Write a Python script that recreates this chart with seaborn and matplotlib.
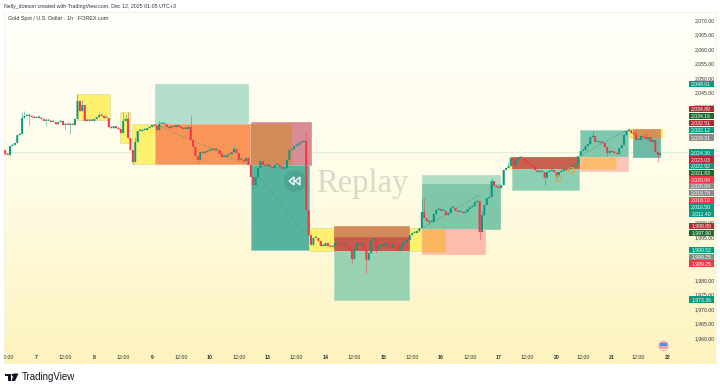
import numpy as np
import pandas as pd
import matplotlib
matplotlib.use("Agg")
import matplotlib.pyplot as plt
from matplotlib.colors import LinearSegmentedColormap
from matplotlib.patches import Rectangle, Circle, Polygon
import seaborn as sns

first_open = 2025.0
closes = [
    2023.6, 2023.3, 2026.4, 2026.8, 2027.5, 2030.2, 2030.6, 2036.1, 2036.8, 2036.8, 2036.8, 2036.4, 2036.1,
    2036.1, 2036.1, 2035.8, 2035.1, 2035.1, 2035.1, 2034.7, 2034.7, 2034.0, 2034.7, 2035.1, 2033.7,
    2034.0, 2033.7, 2034.0, 2033.7, 2035.8, 2042.0, 2038.5, 2040.6, 2035.1, 2035.4, 2035.1, 2035.1,
    2035.8, 2036.4, 2037.1, 2036.8, 2036.1, 2036.1, 2033.0, 2032.6, 2033.3, 2032.6, 2032.3, 2030.9,
    2035.1, 2035.8, 2029.2, 2025.0, 2020.9, 2027.8, 2031.6, 2031.6, 2031.9, 2031.9, 2032.6, 2033.0,
    2033.7, 2033.3, 2031.9, 2034.0, 2034.0, 2034.0, 2033.0, 2032.6, 2033.3, 2033.0, 2033.7, 2033.0,
    2032.6, 2032.3, 2032.3, 2033.0, 2028.5, 2026.1, 2022.9, 2021.6, 2024.3, 2024.0, 2024.3, 2024.7,
    2025.0, 2025.4, 2025.0, 2025.0, 2023.6, 2022.6, 2022.6, 2023.3, 2023.6, 2024.3, 2025.4, 2024.0,
    2021.6, 2021.6, 2021.2, 2022.3, 2019.9, 2015.7, 2012.9, 2015.7, 2018.8, 2021.2, 2019.9, 2019.5,
    2019.9, 2019.2, 2018.8, 2019.9, 2019.9, 2019.2, 2018.5, 2018.8, 2021.6, 2025.0, 2025.4, 2026.4,
    2026.8, 2027.5, 2027.8, 2028.1, 2004.3, 1995.6, 1992.2, 1994.6, 1994.6, 1993.6, 1991.8, 1991.8,
    1992.9, 1991.8, 1991.5, 1991.8, 1992.9, 1992.9, 1992.5, 1992.2, 1992.5, 1991.5, 1990.1, 1987.3,
    1990.8, 1992.9, 1992.2, 1992.9, 1990.4, 1987.0, 1989.4, 1993.6, 1994.6, 1990.4, 1991.8, 1991.8,
    1991.8, 1992.9, 1992.2, 1991.1, 1992.5, 1992.2, 1990.4, 1991.5, 1992.9, 1993.2, 1993.9, 1995.6,
    1996.3, 1996.3, 1997.0, 1998.0, 2003.6, 2001.5, 2000.5, 2000.1, 2000.1, 2002.9, 2004.3, 2004.6,
    2004.0, 2004.0, 2002.5, 2003.2, 2005.0, 2005.0, 2004.0, 2003.6, 2003.6, 2003.2, 2003.6, 2004.6,
    2005.3, 2005.7, 2007.0, 2007.4, 1996.7, 2002.5, 2006.0, 2008.4, 2008.8, 2014.3, 2012.6, 2012.2,
    2011.9, 2012.9, 2018.1, 2018.8, 2019.5, 2022.3, 2019.9, 2021.6, 2022.3, 2022.3, 2021.9, 2020.9,
    2020.5, 2019.9, 2019.2, 2018.1, 2017.4, 2017.4, 2017.4, 2015.4, 2017.4, 2017.8, 2018.1, 2017.4,
    2016.0, 2017.4, 2017.8, 2018.5, 2018.1, 2018.5, 2019.5, 2019.5, 2020.2, 2022.9, 2024.7, 2025.0,
    2026.4, 2027.1, 2029.5, 2029.9, 2027.8, 2027.8, 2027.5, 2027.5, 2026.1, 2024.0, 2024.7, 2024.3,
    2024.0, 2023.6, 2025.7, 2026.8, 2030.2, 2031.6, 2031.9, 2030.9, 2030.6, 2028.5, 2028.5, 2029.9,
    2029.5, 2028.8, 2029.5, 2027.8, 2028.5, 2024.3, 2023.3, 2024.0,
]
# only the wicks that stick out of the body, bar number: price
high_wicks = {-6: 2038.2, -5: 2038.5, -3: 2037.6, 1: 2037.2, 17: 2044.4, 19: 2042.2, 26: 2038.0, 36: 2038.2,
              37: 2037.5, 38: 2038.2, 41: 2029.5, 51: 2035.2, 64: 2037.1, 82: 2026.6, 112: 2030.9, 137: 1991.0,
              160: 2008.4, 161: 2008.4, 185: 2004.0, 189: 2015.4, 196: 2020.9, 197: 2023.0, 231: 2031.6,
              246: 2032.6, 249: 2031.5, 253: 2031.2}
low_wicks = {-11: 2023.0, -3: 2033.7, 4: 2033.6, 14: 2030.6, 12: 2032.4, 40: 2020.2, 67: 2020.5, 86: 2020.5,
             90: 2011.4, 131: 1985.8, 137: 1982.6, 141: 1989.4, 159: 1996.6, 163: 1999.0, 184: 1993.9,
             211: 2012.9, 216: 2014.7, 237: 2023.0, 258: 2020.9}

day_ticks = [0, 24, 48, 72, 96, 120, 144, 168, 192, 216, 239, 262]
day_labels = ["7", "8", "9", "10", "13", "14", "15", "16", "17", "20", "21", "22"]
noon_ticks = [12, 36, 60, 84, 108, 132, 156, 180, 204, 227, 250]
price_ticks = [1960, 1965, 1970, 1975, 1980, 1995, 2000, 2040, 2045, 2050, 2055, 2060, 2065, 2070]

# bar from, bar to, top price, bottom price, colour, edge
zones = [
    (16.8, 30.5, 2044.4, 2035.4, "#fff06e", "#cfe3a6"),
    (34.7, 38.8, 2038.2, 2027.5, "#fff06e", "#cfe3a6"),
    (39.7, 89.1, 2034.0, 2020.2, "#fff06e", "#cfe3a6"),
    (49.2, 87.8, 2047.9, 2034.0, "#b2decb", "#b2decb"),
    (49.2, 88.7, 2034.0, 2020.2, "#f99559", "#f9b08f"),
    (89.1, 114.0, 2034.7, 2019.9, "#d68c93", "#d68c93"),
    (89.1, 105.7, 2034.0, 2019.9, "#d28b58", "#d28b58"),
    (89.1, 113.2, 2019.9, 1990.4, "#55b39e", "#8fcdbb"),
    (113.2, 159.7, 1998.0, 1990.1, "#fff06e", "#cfe3a6"),
    (123.5, 154.7, 1998.7, 1994.9, "#d28b58", "#d28b58"),
    (123.5, 154.7, 1994.9, 1990.1, "#c95a4b", "#c95a4b"),
    (123.5, 154.7, 1990.1, 1973.1, "#98d2b1", "#b0dcc4"),
    (160.1, 192.5, 2016.4, 2013.2, "#b1dcc5", "#b1dcc5"),
    (160.1, 192.5, 2013.2, 1997.7, "#80c6a9", "#80c6a9"),
    (160.1, 186.2, 1997.7, 1989.0, "#fdbcae", "#fdbcae"),
    (160.1, 169.6, 1997.7, 1989.7, "#fbb55e", "#f5c07a"),
    (196.2, 226.0, 2022.6, 2018.5, "#fff06e", "#fff06e"),
    (197.4, 225.3, 2022.6, 2018.5, "#c9604e", "#c9604e"),
    (197.4, 225.3, 2018.5, 2011.2, "#8dcfb2", "#aadcc4"),
    (225.7, 245.6, 2031.9, 2022.6, "#80c8ad", "#a5d8c2"),
    (225.7, 245.6, 2022.6, 2017.8, "#fdc4bc", "#fdc4bc"),
    (225.7, 240.7, 2022.6, 2018.5, "#fbbd6d", "#f5c88a"),
    (246.0, 259.9, 2032.3, 2029.2, "#ffe76a", "#ffe76a"),
    (247.7, 259.0, 2032.3, 2029.2, "#d39156", "#d39156"),
    (247.7, 259.0, 2029.2, 2022.6, "#6dbba5", "#6dbba5"),
]
trend_lines = [
    ([49.0, 87.8], [2034.0, 2019.9]),
    ([92.0, 112.8], [2016.4, 1994.6]),
    ([160.1, 184.0], [1998.0, 2009.5]),
    ([202.0, 224.5], [2022.3, 2022.6]),
    ([225.7, 245.0], [2023.0, 2031.9]),
]
ring_bars = [216.6, 222.0]
ring_prices = [2015.4, 2018.1]

badge_text = ["2,048.01", "2,034.80", "2,034.16", "2,032.51", "2,032.12", "2,029.31", "2,024.30", "2,023.03",
              "2,022.92", "2,021.83", "2,020.04", "2,020.04", "2,018.78", "2,018.10", "2,016.50", "2,011.40",
              "1,998.89", "1,997.90", "1,990.52", "1,990.25", "1,989.25", "1,973.36"]
badge_y = [84, 109, 116, 123, 130, 137.5, 152.5, 159.5, 166, 173, 179.5, 186, 193, 200, 206.5, 213.5,
           226, 233, 250, 257, 263.5, 299.5]
badge_kind = ["t", "r", "g", "r", "t", "n", "t", "r", "t", "g", "b", "n", "n", "b", "t", "t", "r", "g", "t", "n", "b", "t"]
badge_colors = {"t": "#089981", "r": "#b22833", "g": "#1b6b2c", "n": "#8a8a8a", "b": "#f23645"}

sns.set_theme(style="white")
plt.rcParams["font.family"] = ["Liberation Sans", "DejaVu Sans"]

bar_no = np.arange(-13, -13 + len(closes))
opens = [first_open] + closes[:-1]
df = pd.DataFrame({"bar": bar_no, "open": opens, "close": closes})
df["top"] = df[["open", "close"]].max(axis=1)
df["low"] = df[["open", "close"]].min(axis=1)
df["body"] = (df["top"] - df["low"]).clip(lower=0.5)
df["wick_hi"] = [max(high_wicks.get(b, t), t) for b, t in zip(df["bar"], df["top"])]
df["wick_lo"] = [min(low_wicks.get(b, l), l) for b, l in zip(df["bar"], df["low"])]
df["up"] = df["close"] >= df["open"]

fig = plt.figure(figsize=(7.2, 3.9), dpi=100, facecolor="white")
ax = fig.add_axes([4 / 720, 1 - 364 / 390, 712 / 720, 352 / 390])
x_min, x_max = -13.5, 282.2
y_min, y_max = 1951.0, 2072.77

cmap = LinearSegmentedColormap.from_list("bg", ["#fffffa", "#fffce6", "#fdf3bd"])
ax.imshow(np.linspace(0, 1, 256).reshape(-1, 1), cmap=cmap, aspect="auto", zorder=0,
          extent=[x_min, x_max, y_min, y_max], origin="upper")

ax.hlines(2024.3, x_min, 270.5, color="#dcefd8", lw=0.9, zorder=1)
for x0, x1, top, bottom, col, edge in zones:
    ax.add_patch(Rectangle((x0, bottom), x1 - x0, top - bottom, facecolor=col, edgecolor=edge, lw=0.5, zorder=2))

for xs, ys in trend_lines:
    sns.lineplot(x=xs, y=ys, color="#5f8f78", lw=0.5, linestyle=(0, (2, 2)), errorbar=None, ax=ax, zorder=3)

for up, col in [(True, "#089981"), (False, "#f23645")]:
    part = df[df["up"] == up]
    ax.vlines(part["bar"], part["wick_lo"], part["wick_hi"], color=col, lw=0.55, alpha=0.6, zorder=4)
    sns.barplot(data=part, x="bar", y="body", bottom=part["low"].to_numpy(), native_scale=True, width=0.8,
                color=col, saturation=1, errorbar=None, linewidth=0, ax=ax, zorder=5)
# no pixel snapping, bodies stay even in width
for cont in ax.containers:
    for b in cont:
        b.set_snap(False)

ax.plot(ring_bars, ring_prices, ls="none", marker="o", ms=4.4, mfc="none", mec="#f0a030", mew=0.7, zorder=6)

ax.set_xlim(x_min, x_max)
ax.set_ylim(y_min, y_max)
ax.set_xlabel("")
ax.set_ylabel("")

ax.set_xticks(day_ticks + noon_ticks)
ax.set_xticklabels(day_labels + ["12:00"] * len(noon_ticks))
for lab, txt in zip(ax.get_xticklabels(), day_labels + [""] * len(noon_ticks)):
    lab.set_fontweight("bold" if txt else "normal")
ax.tick_params(axis="x", length=0, pad=-6.8, labelsize=3.8, labelcolor="#333333")
ax.text(-12, y_min + 2.4, "12:00", fontsize=3.8, color="#333333", ha="center", va="center", clip_on=True, zorder=6)

ax.yaxis.tick_right()
ax.set_yticks(price_ticks)
ax.set_yticklabels([f"{p:,.2f}" for p in price_ticks])
ax.tick_params(axis="y", length=0, pad=-15.6, labelsize=3.7, labelcolor="#333333")
ax.grid(False)
for spine in ax.spines.values():
    spine.set_color("#efefea")
    spine.set_linewidth(0.5)
ax.spines["bottom"].set_visible(False)


def fx(x):
    return x / 720


def fy(y):
    return 1 - y / 390


for txt, y, kind in zip(badge_text, badge_y, badge_kind):
    fig.add_artist(Rectangle((fx(689), fy(y + 3.4)), 24.5 / 720, 6.8 / 390, transform=fig.transFigure,
                             facecolor=badge_colors[kind], edgecolor="none"))
    fig.text(fx(701.2), fy(y), txt, color="white", fontsize=3.7, ha="center", va="center")

fig.text(fx(4), fy(6.3), "Nelly_doeson created with TradingView.com, Dec 12, 2025 01:05 UTC+3",
         fontsize=3.75, color="#333333", va="center")
fig.text(fx(8), fy(18.5), "Gold Spot / U.S. Dollar · 1h · FOREX.com", fontsize=3.85, color="#333333", va="center")

# replay watermark
ax.add_patch(Circle((295, 390 - 181), 11, transform=None, facecolor="#4a9f8e", alpha=0.7, edgecolor="none", zorder=6))
ax.add_patch(Polygon([[294, 209 + 4], [294, 209 - 4], [289, 209]], transform=None, facecolor="#66b3a1", alpha=0.9, zorder=7))
ax.add_patch(Polygon([[300, 209 + 4], [300, 209 - 4], [295, 209]], transform=None, facecolor="#66b3a1", alpha=0.9, zorder=7))
fig.text(fx(316), fy(184), "Replay", family="Liberation Serif", fontsize=23.5, color="#8f8f86", alpha=0.32,
         va="center", ha="left")

# news flag
fig.add_artist(Circle((663.5, 390 - 346), 5.2, transform=None, facecolor="#f3a3a8", edgecolor="none"))
fig.add_artist(Rectangle((660, 390 - 346), 7, 3, transform=None, facecolor="#4d8fe0", edgecolor="none"))
fig.add_artist(Rectangle((660, 390 - 349.5), 7, 1, transform=None, facecolor="#fff4f0", edgecolor="none"))

# logo
fig.add_artist(Rectangle((5, 390 - 376), 6, 2.5, transform=None, facecolor="#131722", edgecolor="none"))
fig.add_artist(Rectangle((7.5, 390 - 381), 3, 5, transform=None, facecolor="#131722", edgecolor="none"))
fig.add_artist(Circle((13, 390 - 375), 1.3, transform=None, facecolor="#131722", edgecolor="none"))
fig.add_artist(Polygon([[14, 390 - 373.5], [18.5, 390 - 373.5], [15, 390 - 381], [11.5, 390 - 381]], transform=None,
                       facecolor="#131722", edgecolor="none"))
fig.text(fx(21.5), fy(377), "TradingView", fontsize=7.0, color="#131722", va="center")

fig.savefig("out.png", dpi=100, facecolor="white")
